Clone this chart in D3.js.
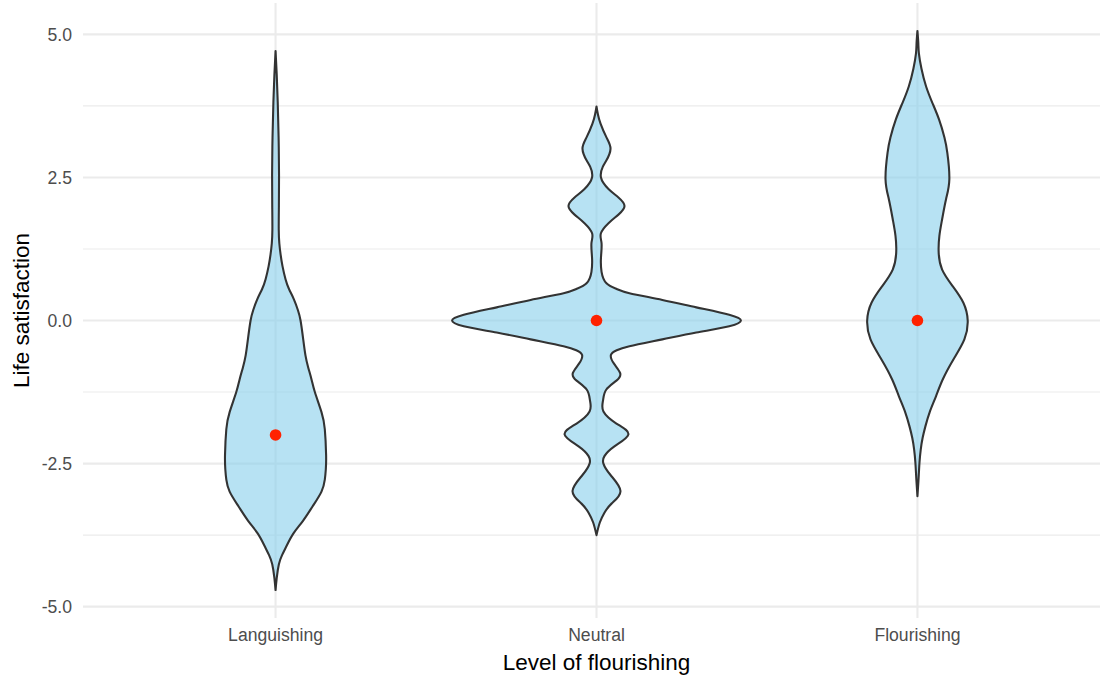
<!DOCTYPE html>
<html>
<head>
<meta charset="utf-8">
<script src="https://cdn.jsdelivr.net/npm/d3@7"></script>
<style>
  body { margin: 0; background: #fff; }
  svg { font-family: "Liberation Sans", Arial, sans-serif; }
</style>
</head>
<body>
<svg id="chart" width="1100" height="677"></svg>
<script>
// categories on the x axis
const groups = ["Languishing", "Neutral", "Flourishing"];

// violin outlines: y values and relative density (1 = widest violin)
const languishingY = [4.71, 4.3, 3.82, 3.2, 2.54, 2.0, 1.59, 1.35, 1.15, 0.95, 0.72, 0.55, 0.37, 0.18, 0, -0.32, -0.61, -0.82, -1.03, -1.25, -1.6, -1.9, -2.35, -2.6, -2.78, -2.99, -3.25, -3.5, -3.72, -3.94, -4.1, -4.26, -4.5, -4.71];
const languishingD = [0, 0.008, 0.015, 0.021, 0.024, 0.023, 0.022, 0.026, 0.035, 0.048, 0.069, 0.093, 0.127, 0.155, 0.173, 0.191, 0.207, 0.226, 0.249, 0.272, 0.318, 0.341, 0.35, 0.348, 0.341, 0.318, 0.256, 0.19, 0.124, 0.076, 0.045, 0.023, 0.008, 0];

const neutralY = [3.74, 3.6, 3.44, 3.2, 3.0, 2.8, 2.69, 2.5, 2.3, 2.15, 2.0, 1.85, 1.7, 1.52, 1.35, 1.1, 0.85, 0.65, 0.55, 0.477, 0.36, 0.23, 0.1, 0, -0.1, -0.21, -0.33, -0.45, -0.52, -0.6, -0.75, -0.92, -1.05, -1.21, -1.4, -1.59, -1.8, -1.99, -2.2, -2.37, -2.5, -2.7, -2.98, -3.2, -3.36, -3.53, -3.75];
const neutralD = [0, 0.01, 0.028, 0.069, 0.097, 0.069, 0.044, 0.031, 0.083, 0.152, 0.194, 0.152, 0.083, 0.03, 0.035, 0.031, 0.035, 0.069, 0.14, 0.228, 0.456, 0.691, 0.919, 1.0, 0.919, 0.691, 0.456, 0.228, 0.14, 0.1, 0.12, 0.164, 0.138, 0.067, 0.045, 0.048, 0.138, 0.221, 0.124, 0.055, 0.048, 0.097, 0.166, 0.104, 0.055, 0.023, 0];

const flourishingY = [5.06, 4.85, 4.67, 4.4, 4.09, 3.8, 3.51, 3.2, 2.93, 2.47, 2.12, 1.77, 1.48, 1.19, 0.89, 0.6, 0.31, 0, -0.33, -0.68, -1.03, -1.32, -1.6, -1.85, -2.05, -2.25, -2.49, -2.8, -3.07];
const flourishingD = [0, 0.006, 0.01, 0.028, 0.06, 0.104, 0.15, 0.187, 0.207, 0.221, 0.198, 0.171, 0.152, 0.147, 0.171, 0.244, 0.318, 0.348, 0.325, 0.249, 0.175, 0.129, 0.085, 0.055, 0.036, 0.023, 0.014, 0.007, 0];

// red points (medians)
const medians = [-2, 0, 0];

const yTicks = [-5, -2.5, 0, 2.5, 5];
const yMinor = [-3.75, -1.25, 1.25, 3.75];

const violins = [
  { group: groups[0], y: languishingY, d: languishingD },
  { group: groups[1], y: neutralY, d: neutralD },
  { group: groups[2], y: flourishingY, d: flourishingD }
];

const svg = d3.select("#chart");
const panel = { left: 83, right: 1110, top: 3, bottom: 618 };

// y domain: data range expanded by 5% (ggplot style)
const allY = violins.flatMap(v => v.y);
const [yMin, yMax] = d3.extent(allY);
const pad = (yMax - yMin) * 0.05;

const x = d3.scalePoint().domain(groups).range([panel.left, panel.right]).padding(0.6);
const y = d3.scaleLinear().domain([yMin - pad, yMax + pad]).range([panel.bottom, panel.top]);
const w = d3.scaleLinear().domain([0, 1]).range([0, x.step() * 0.45]);

const fmt = d3.format(".1f");
const label = v => fmt(v).replace("\u2212", "-");

// grid
const grid = svg.append("g").attr("class", "grid");
grid.selectAll("line.minor")
  .data(yMinor).enter().append("line")
  .attr("class", "minor")
  .attr("x1", panel.left).attr("x2", panel.right)
  .attr("y1", d => y(d)).attr("y2", d => y(d))
  .attr("stroke", "#ebebeb").attr("stroke-width", 1.1);
grid.selectAll("line.major")
  .data(yTicks).enter().append("line")
  .attr("class", "major")
  .attr("x1", panel.left).attr("x2", panel.right)
  .attr("y1", d => y(d)).attr("y2", d => y(d))
  .attr("stroke", "#ebebeb").attr("stroke-width", 2.1);
grid.selectAll("line.vert")
  .data(groups).enter().append("line")
  .attr("class", "vert")
  .attr("x1", d => x(d)).attr("x2", d => x(d))
  .attr("y1", panel.top).attr("y2", panel.bottom)
  .attr("stroke", "#ebebeb").attr("stroke-width", 2.1);

// violins: smooth spline through the sampled outline
const area = d3.area()
  .curve(d3.curveNatural)
  .y(p => y(p[0]))
  .x0(p => p[2] - w(p[1]))
  .x1(p => p[2] + w(p[1]));

svg.append("g").attr("class", "violins")
  .selectAll("path")
  .data(violins).enter().append("path")
  .attr("d", v => area(v.y.map((yy, i) => [yy, v.d[i], x(v.group)])))
  .attr("fill", "skyblue")
  .attr("fill-opacity", 0.6)
  .attr("stroke", "#333333")
  .attr("stroke-width", 2.1)
  .attr("stroke-linejoin", "round");

// median points
svg.append("g").attr("class", "points")
  .selectAll("circle")
  .data(groups).enter().append("circle")
  .attr("cx", d => x(d))
  .attr("cy", (d, i) => y(medians[i]))
  .attr("r", 5.8)
  .attr("fill", "#ff2200");

// y tick labels
svg.append("g").selectAll("text")
  .data(yTicks).enter().append("text")
  .attr("x", 72)
  .attr("y", d => y(d))
  .attr("dy", "0.35em")
  .attr("text-anchor", "end")
  .attr("font-size", 17.6)
  .attr("fill", "#4d4d4d")
  .text(label);

// x tick labels
svg.append("g").selectAll("text")
  .data(groups).enter().append("text")
  .attr("x", d => x(d))
  .attr("y", 641)
  .attr("text-anchor", "middle")
  .attr("font-size", 17.6)
  .attr("fill", "#4d4d4d")
  .text(d => d);

// axis titles
svg.append("text")
  .attr("x", (panel.left + panel.right) / 2)
  .attr("y", 670)
  .attr("text-anchor", "middle")
  .attr("font-size", 22.5)
  .attr("fill", "#000")
  .text("Level of flourishing");

svg.append("text")
  .attr("transform", `translate(29, ${(panel.top + panel.bottom) / 2}) rotate(-90)`)
  .attr("text-anchor", "middle")
  .attr("font-size", 22.5)
  .attr("fill", "#000")
  .text("Life satisfaction");
</script>
</body>
</html>
